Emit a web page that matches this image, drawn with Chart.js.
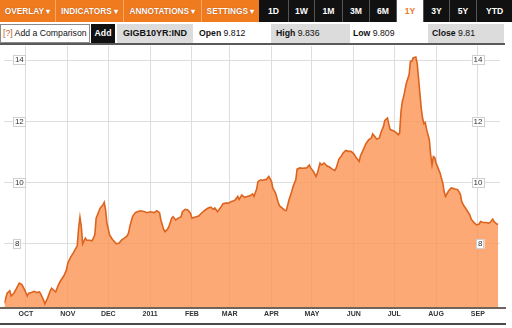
<!DOCTYPE html>
<html><head><meta charset="utf-8">
<script src="https://cdn.jsdelivr.net/npm/chart.js@4/dist/chart.umd.min.js"></script>
<style>
html,body{margin:0;padding:0;background:#fff;}
body{width:512px;height:328px;position:relative;overflow:hidden;font-family:"Liberation Sans",Arial,sans-serif;}
.a{position:absolute;box-sizing:border-box;white-space:nowrap;}
.ob{top:0;height:22px;background:#f07a1e;color:#fff;font-weight:bold;font-size:8.3px;line-height:22px;text-align:center;text-shadow:0 0 1px #a0450a;border-right:1px solid #f8a868;}
.bb{top:0;height:22px;background:#111;color:#fff;font-weight:bold;font-size:8.6px;line-height:22px;text-align:center;border-right:1px solid #555;}
.r2{top:24px;height:19px;font-size:8.7px;line-height:19px;color:#111;}
.g{background:#dcdcdc;}
#wrap{position:absolute;left:0;top:46px;width:512px;height:282px;}
</style></head><body>
<div class="a ob" style="left:0;width:56px;">OVERLAY ▾</div>
<div class="a ob" style="left:56px;width:68px;">INDICATORS ▾</div>
<div class="a ob" style="left:124px;width:78px;">ANNOTATIONS ▾</div>
<div class="a ob" style="left:202px;width:57px;border-right:none;">SETTINGS ▾</div>
<div class="a bb" style="left:259px;width:30px;">1D</div>
<div class="a bb" style="left:289px;width:26px;">1W</div>
<div class="a bb" style="left:315px;width:28px;">1M</div>
<div class="a bb" style="left:343px;width:27px;">3M</div>
<div class="a bb" style="left:370px;width:27px;">6M</div>
<div class="a bb" style="left:397px;width:27px;background:#fff;color:#f07a1e;">1Y</div>
<div class="a bb" style="left:424px;width:26px;">3Y</div>
<div class="a bb" style="left:450px;width:27px;">5Y</div>
<div class="a bb" style="left:477px;width:35px;border-right:none;">YTD</div>

<div class="a r2" style="left:0;width:90px;border:1px solid #8a8a8a;padding-left:2px;line-height:17px;"><span style="color:#c0601a;">[?]</span> Add a Comparison</div>
<div class="a r2" style="left:91px;width:24px;background:#111;color:#fff;font-weight:bold;text-align:center;">Add</div>
<div class="a r2 g" style="left:117px;width:76px;font-weight:bold;font-size:9px;text-align:center;">GIGB10YR:IND</div>
<div class="a r2" style="left:199px;"><b>Open</b> 9.812</div>
<div class="a r2 g" style="left:271px;width:79px;padding-left:5px;"><b>High</b> 9.836</div>
<div class="a r2" style="left:353px;"><b>Low</b> 9.809</div>
<div class="a r2 g" style="left:428px;width:76px;padding-left:4px;"><b>Close</b> 9.81</div>
<div class="a" style="left:0;top:43px;width:505px;height:2px;background:#5a5a5a;"></div>

<div class="a" style="left:0;top:307px;width:506px;height:2px;background:#6e645a;"></div>
<div class="a" style="left:0;top:323px;width:506px;height:2px;background:#4a4a4a;"></div>

<div id="wrap"><canvas id="c"></canvas></div>
<script>
// days since 2010-09-15
const days = [
0,2,4,5,7,9,11,13,15,17,
18,20,22,24,26,27,29,30,32,34,
35,37,38,40,42,44,46,47,49,51,
53,54,55,56,57,58,60,61,63,65,
67,68,70,71,73,74,75,76,78,80,
81,83,85,87,89,91,92,93,95,97,
99,101,104,106,108,111,113,115,116,118,
119,121,122,124,125,127,129,131,132,134,
136,138,139,141,144,146,148,151,153,155,
156,158,160,162,164,166,168,170,171,173,
174,176,178,180,182,184,185,187,188,190,
191,193,194,196,198,199,201,203,204,206,
208,209,211,213,214,216,217,219,221,224,
226,227,229,231,232,234,235,237,239,241,
243,245,246,248,250,251,253,255,257,259,
261,263,264,266,268,270,272,273,275,276,
278,279,281,282,284,285,286,288,290,292,
293,294,295,296,297,298,300,301,302,303,
305,306,307,308,309,310,311,312,313,315,
316,317,318,319,320,321,323,325,326,327,
329,331,332,334,336,338,339,341,343,345,
346,348,350,352,353,355,357,359,360,362,
363,365,366];
const yields = [
6.06,6.39,6.47,6.30,6.39,6.55,6.72,6.67,6.50,6.30,
6.39,6.41,6.45,6.41,6.43,6.36,6.17,6.04,6.23,6.47,
6.55,6.47,6.43,6.66,6.82,6.95,7.15,7.37,7.56,7.70,
7.86,7.93,8.51,8.87,8.57,8.00,8.19,8.12,8.12,8.10,
8.29,8.84,9.06,9.17,9.27,9.36,9.11,8.68,8.29,8.15,
8.10,8.00,8.03,8.13,8.19,8.26,8.35,8.57,8.89,9.02,
9.06,9.08,9.05,9.02,9.05,9.02,9.08,9.02,8.78,8.48,
8.40,8.48,8.57,8.84,8.89,8.78,8.84,8.89,9.05,9.13,
9.11,9.00,8.84,8.87,8.91,9.00,9.08,9.17,9.20,9.13,
9.17,9.05,9.17,9.31,9.33,9.33,9.38,9.41,9.43,9.55,
9.45,9.60,9.52,9.55,9.57,9.63,9.55,9.79,10.04,10.09,
10.07,10.10,10.09,10.20,10.04,9.82,9.66,9.35,9.24,9.17,
9.09,9.09,9.44,9.71,9.87,10.09,10.44,10.48,10.47,10.48,
10.58,10.48,10.37,10.20,10.31,10.64,10.58,10.64,10.55,10.51,
10.44,10.40,10.48,10.77,10.88,10.96,11.05,11.02,11.02,10.94,
10.80,10.69,10.88,11.07,11.27,11.40,11.46,11.59,11.48,11.42,
11.46,11.62,11.83,12.03,12.11,11.90,11.73,11.70,11.65,11.56,
11.62,12.32,12.65,12.81,13.03,13.25,13.52,13.96,13.96,14.07,
14.10,13.90,13.41,12.92,12.43,12.11,11.92,11.96,11.73,11.40,
10.91,10.58,10.85,10.82,10.64,10.53,10.31,9.98,9.71,9.55,
9.71,9.82,9.82,9.79,9.77,9.63,9.38,9.22,9.09,8.95,
8.81,8.70,8.62,8.65,8.73,8.70,8.70,8.68,8.70,8.81,
8.73,8.65,8.63];
const monthDays = [16,47,77,108,139,167,198,228,259,289,320,351];
const monthLabels = ['OCT','NOV','DEC','2011','FEB','MAR','APR','MAY','JUN','JUL','AUG','SEP'];
const yTicks = [8,10,12,14];

const points = days.map((d,i)=>({x:d,y:yields[i]}));
const yOpts = (pos, grid, pad) => ({
  type:'linear', position:pos, min:5.94, max:14.46,
  afterBuildTicks:(s)=>{ s.ticks = yTicks.map(v=>({value:v})); },
  afterFit:(s)=>{ s.width = 0; s.paddingTop = 0; s.paddingBottom = 0; },
  border:{display:false},
  grid:{display:grid, color:'#dedede', drawTicks:false, lineWidth:1},
  ticks:{mirror:true, padding:pad, z:1, color:'#333', font:{family:'Liberation Sans', size:8},
    showLabelBackdrop:true, backdropColor:'#ffffff', backdropPadding:{x:2,y:0},
    callback:(v)=>String(v)}
});
// thin grey frame around the y tick label backdrops
const labelFrame = {
  id:'labelFrame',
  afterDraw(chart){
    const ctx = chart.ctx;
    ctx.save();
    ctx.strokeStyle = '#cfcfcf'; ctx.lineWidth = 1;
    ['y','y2'].forEach(id=>{
      const sc = chart.scales[id];
      const items = sc.getLabelItems ? sc.getLabelItems(chart.chartArea) : sc._labelItems;
      (items||[]).forEach(it=>{
        const b = it.options.backdrop;
        const t = it.options.translation || [0,0];
        if (b) ctx.strokeRect(Math.round(t[0]+b.left)+0.5, Math.round(t[1]+b.top)+0.5, Math.round(b.width)-1, Math.round(b.height)-1);
      });
    });
    ctx.restore();
  }
};
new Chart(document.getElementById('c'), {
  type:'line',
  data:{datasets:[{data:points, borderColor:'#dc641e', borderWidth:1.6, backgroundColor:'rgba(251,150,88,0.82)',
    fill:'start', pointRadius:0, tension:0}]},
  options:{
    responsive:true, maintainAspectRatio:false, animation:false,
    layout:{padding:{left:4.4, right:12, top:0, bottom:6}},
    plugins:{legend:{display:false}, tooltip:{enabled:false}},
    scales:{
      x:{type:'linear', min:0, max:367.4,
        afterBuildTicks:(s)=>{ s.ticks = monthDays.map(v=>({value:v})); },
        afterFit:(s)=>{ s.height = 15; s.paddingLeft = 0; s.paddingRight = 0; },
        border:{display:false},
        grid:{color:'#dedede', drawTicks:false},
        ticks:{autoSkip:false, maxRotation:0, padding:3, color:'#333',
          font:{family:'Liberation Sans', size:7, weight:'bold'},
          callback:(v)=>monthLabels[monthDays.indexOf(v)]}
      },
      y:yOpts('left', true, 10.5),
      y2:yOpts('right', false, -17.5)
    }
  },
  plugins:[labelFrame]
});
</script>
</body></html>
